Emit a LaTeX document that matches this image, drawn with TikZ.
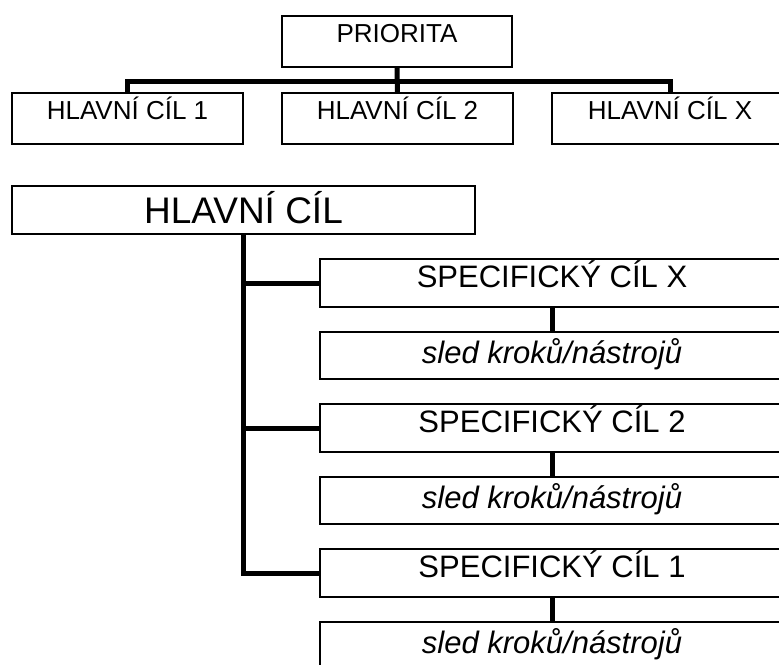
\documentclass[tikz,border=0pt]{standalone}
\usepackage{fontspec}
\setmainfont{Liberation Sans}
\usepackage{tikz}
\usetikzlibrary{positioning}

\begin{document}
\begin{tikzpicture}[x=1pt,y=-1pt,
  box/.style={draw,black,line width=1.3pt,inner sep=0pt,outer sep=0pt,anchor=north west},
  goal/.style={box,minimum width=231pt,text height=26pt,text depth=25pt,font=\fontsize{26}{30}\selectfont},
  spec/.style={box,minimum width=464pt,text height=28pt,text depth=20pt,font=\fontsize{31}{36}\selectfont},
  steps/.style={box,minimum width=464pt,text height=31pt,text depth=16pt,font=\fontsize{31}{36}\selectfont\itshape},
  link/.style={black,line width=5pt},
  node distance=25pt]
\useasboundingbox (0,0) rectangle (779,664);
\clip (0,0) rectangle (779,664);
% upper part
\node[goal,minimum width=230pt] (prior) at (282,16) {PRIORITA};
\node[goal] (goal1) at (12,93) {HLAVNÍ CÍL 1};
\node[goal] (goal2) at (282,93) {HLAVNÍ CÍL 2};
\node[goal,minimum width=236pt] (goalx) at (552,93) {HLAVNÍ CÍL X};
\coordinate (bar) at (398,81);
\draw [link](prior.south)--(goal2.north);
\draw [link](goal1.north)|-(bar)-|(goalx.north);
% lower part
\node[box,minimum width=463pt,text height=37pt,text depth=11pt,font=\fontsize{37}{44}\selectfont] (main) at (12,186) {HLAVNÍ CÍL};
\node[spec] (specx) at (320,259) {SPECIFICKÝ CÍL X};
\node[steps,below=of specx] (stepsx) {sled kroků/nástrojů};
\node[spec,below=of stepsx] (spec2) {SPECIFICKÝ CÍL 2};
\node[steps,below=of spec2] (steps2) {sled kroků/nástrojů};
\node[spec,below=of steps2] (spec1) {SPECIFICKÝ CÍL 1};
\node[steps,below=of spec1] (steps1) {sled kroků/nástrojů};
\draw [link](main.south)|-(spec1.west);
\draw [link](main.south|-specx.west)--(specx.west);
\draw [link](main.south|-spec2.west)--(spec2.west);
\draw [link](specx.south)--(stepsx.north);
\draw [link](spec2.south)--(steps2.north);
\draw [link](spec1.south)--(steps1.north);
\end{tikzpicture}
\end{document}
